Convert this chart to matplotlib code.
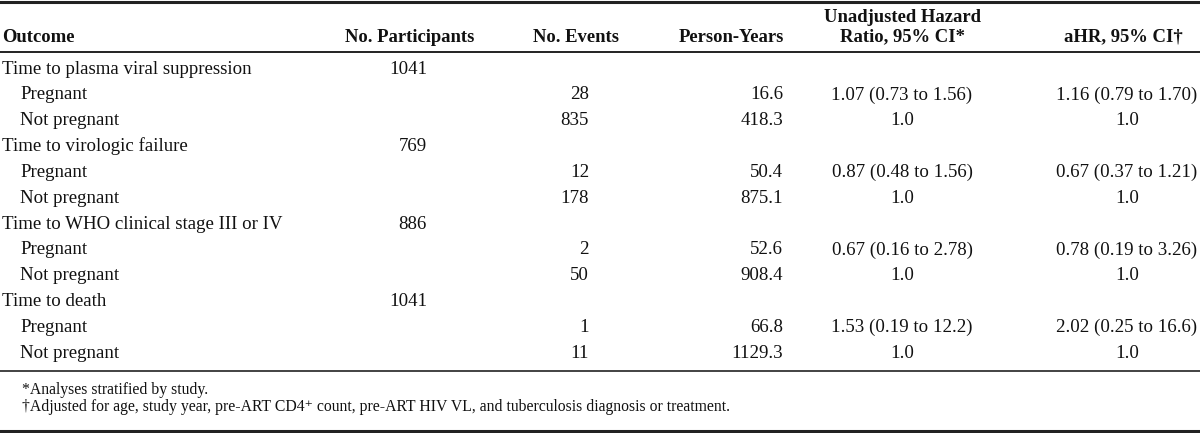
import matplotlib.pyplot as plt

plt.rcParams['font.family'] = ['Liberation Serif', 'DejaVu Serif']

# table content
headers = ['Outcome', 'No. Participants', 'No. Events', 'Person-Years',
           'Unadjusted Hazard\nRatio, 95% CI*', 'aHR, 95% CI\u2020']
outcomes = ['Time to plasma viral suppression', 'Time to virologic failure',
            'Time to WHO clinical stage III or IV', 'Time to death']
participants = ['1041', '769', '886', '1041']
groups = ['Pregnant', 'Not pregnant']
events = [['28', '835'], ['12', '178'], ['2', '50'], ['1', '11']]
person_years = [['16.6', '418.3'], ['50.4', '875.1'], ['52.6', '908.4'], ['66.8', '1129.3']]
unadj_hr = [['1.07 (0.73 to 1.56)', '1.0'], ['0.87 (0.48 to 1.56)', '1.0'],
            ['0.67 (0.16 to 2.78)', '1.0'], ['1.53 (0.19 to 12.2)', '1.0']]
adj_hr = [['1.16 (0.79 to 1.70)', '1.0'], ['0.67 (0.37 to 1.21)', '1.0'],
          ['0.78 (0.19 to 3.26)', '1.0'], ['2.02 (0.25 to 16.6)', '1.0']]
footnotes = ['*Analyses stratified by study.',
             '\u2020Adjusted for age, study year, pre-ART CD4\u207a count, pre-ART HIV VL, and tuberculosis diagnosis or treatment.']

W, H = 1200, 433
fig = plt.figure(figsize=(W / 100, H / 100), dpi=100)
ax = fig.add_axes([0, 0, 1, 1])
ax.set_xlim(0, W)
ax.set_ylim(H, 0)
ax.axis('off')

fs = 13.6
hdr_kw = dict(fontsize=13.4, fontweight='bold', va='center', color='#111111')
txt_kw = dict(fontsize=fs, va='center', color='#111111')

# header
ax.text(2, 37, headers[0], ha='left', **hdr_kw)
ax.text(410, 37, headers[1], ha='center', **hdr_kw)
ax.text(576, 37, headers[2], ha='center', **hdr_kw)
ax.text(731, 37, headers[3], ha='center', **hdr_kw)
ax.text(902, 27, headers[4], ha='center', linespacing=1.15, **hdr_kw)
ax.text(1123, 37, headers[5], ha='center', **hdr_kw)

# rules
ax.plot([0, W], [1.5, 1.5], color='#222222', lw=2.2)
ax.plot([0, W], [51.5, 51.5], color='#222222', lw=1.4)
ax.plot([0, W], [371, 371], color='#222222', lw=1.2)
ax.plot([0, W], [431, 431], color='#222222', lw=2.2)

y0, dy = 69, 25.85
row = 0
for i, outc in enumerate(outcomes):
    y = y0 + row * dy
    ax.text(2, y, outc, ha='left', **txt_kw)
    ax.text(427, y, participants[i], ha='right', **txt_kw)
    row += 1
    for j, g in enumerate(groups):
        y = y0 + row * dy
        ax.text(20, y, g, ha='left', **txt_kw)
        ax.text(589, y, events[i][j], ha='right', **txt_kw)
        ax.text(783, y, person_years[i][j], ha='right', **txt_kw)
        ax.text(902, y, unadj_hr[i][j], ha='center', **txt_kw)
        ax.text(1127, y, adj_hr[i][j], ha='center', **txt_kw)
        row += 1

ax.text(22, 390, footnotes[0], ha='left', va='center', fontsize=11.3, color='#111111')
ax.text(22, 407, footnotes[1], ha='left', va='center', fontsize=11.3, color='#111111')

fig.savefig('out.png', dpi=100, facecolor='white')
